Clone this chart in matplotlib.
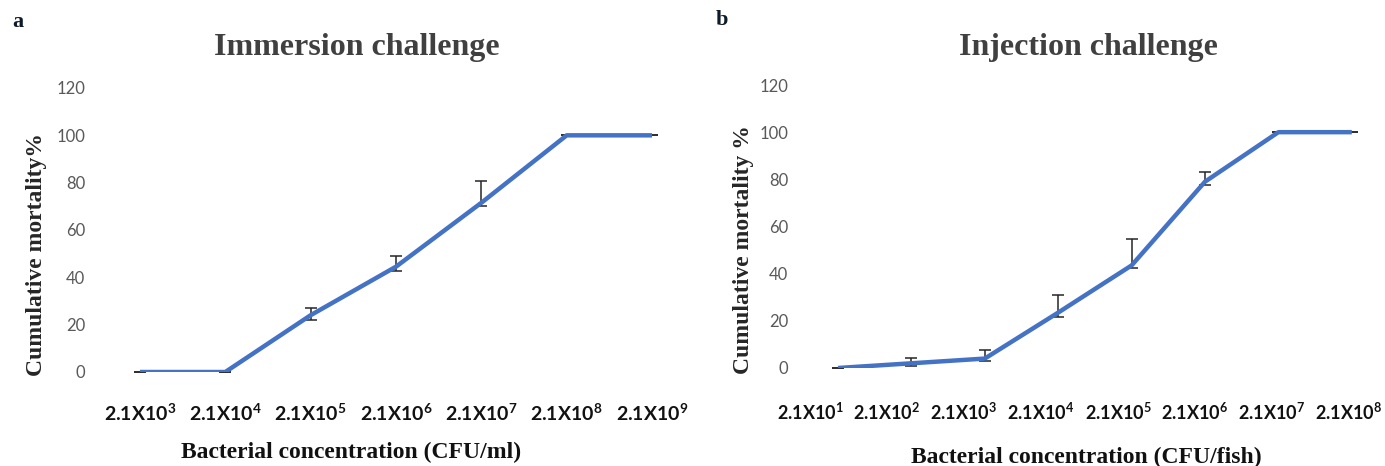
import matplotlib
matplotlib.use("Agg")
import matplotlib.pyplot as plt
import matplotlib.transforms as mtransforms
import numpy as np

# Immersion challenge (panel a)
imm_labels = ['3', '4', '5', '6', '7', '8', '9']
imm_values = [0, 0, 24, 44.5, 71.5, 100, 100]
imm_err_up = [0, 0, 3, 4.4, 9, 0, 0]
imm_err_lo = [0, 0, 2, 1.7, 1.2, 0, 0]

# Injection challenge (panel b)
inj_labels = ['1', '2', '3', '4', '5', '6', '7', '8']
inj_values = [0, 2, 4, 23.5, 43.5, 79, 100, 100]
inj_err_up = [0, 2.3, 3.8, 7.3, 11, 4, 0, 0]
inj_err_lo = [0, 1.3, 1, 1.8, 1.3, 1.2, 0, 0]

plt.rcParams['mathtext.fontset'] = 'custom'
plt.rcParams['mathtext.rm'] = 'Lato'
plt.rcParams['mathtext.bf'] = 'Lato:bold'

W, H = 1385, 466
fig = plt.figure(figsize=(W / 100, H / 100), dpi=100)

line_color = '#4472C4'
serif = 'Liberation Serif'


def px(x0, y_top, x1, y_bot):
    return [x0 / W, 1 - y_bot / H, (x1 - x0) / W, (y_bot - y_top) / H]


def panel(rect, labels, values, up, lo, ypad, xpad, xsize):
    ax = fig.add_axes(rect)
    x = np.arange(len(values))
    ax.errorbar(x, values, yerr=[lo, up], fmt='none', ecolor='#262626',
                elinewidth=1.1, capsize=4, capthick=1.1, zorder=2)
    ax.plot(x, values, color=line_color, lw=3.2, solid_capstyle='butt', zorder=3)
    ax.set_xlim(-0.5, len(values) - 0.5)
    ax.set_ylim(0, 120)
    ax.set_yticks(np.arange(0, 121, 20))
    ax.set_xticks(x)
    ax.set_xticklabels([r'$\mathbf{2.1X10^{%s}}$' % s for s in labels])
    for sp in ax.spines.values():
        sp.set_visible(False)
    ax.tick_params(axis='both', length=0)
    ax.tick_params(axis='y', labelsize=12, labelcolor='#595959', pad=ypad)
    ax.tick_params(axis='x', labelsize=xsize, labelcolor='#111111', pad=xpad)
    for t in ax.get_yticklabels():
        t.set_family('Lato')
    return ax


ax1 = panel(px(97.3, 88, 694.7, 372), imm_labels, imm_values, imm_err_up, imm_err_lo,
            8.5, 23, 14)
ax2 = panel(px(801.3, 85, 1388.5, 368), inj_labels, inj_values, inj_err_up, inj_err_lo,
            9.5, 25, 13)

# panel b category labels are spread a little wider than the points
n = len(inj_values)
step = 73.4
targets = np.linspace(810, 1349, n)
points = 838 + step * np.arange(n)
for lab, dx in zip(ax2.get_xticklabels(), targets - points):
    lab.set_transform(lab.get_transform() +
                      mtransforms.ScaledTranslation(dx / 100, 0, fig.dpi_scale_trans))

# panel letters
fig.text(12 / W, 1 - 22 / H, 'a', family=serif, weight='bold', fontsize=16,
         color='#0d1b2a', va='center', ha='left')
fig.text(716 / W, 1 - 20 / H, 'b', family=serif, weight='bold', fontsize=16,
         color='#0d1b2a', va='center', ha='left')

# titles
fig.text(357 / W, 1 - 48 / H, 'Immersion challenge', family=serif, weight='bold',
         fontsize=23, color='#404040', ha='center', va='center')
fig.text(1088 / W, 1 - 48 / H, 'Injection challenge', family=serif, weight='bold',
         fontsize=23, color='#404040', ha='center', va='center')

# axis titles
fig.text(37 / W, 1 - 255 / H, 'Cumulative mortality%', family=serif, weight='bold',
         fontsize=17, color='#262626', rotation=90, ha='center', va='center')
fig.text(743 / W, 1 - 250 / H, 'Cumulative mortality %', family=serif, weight='bold',
         fontsize=17, color='#262626', rotation=90, ha='center', va='center')
fig.text(351 / W, 1 - 452 / H, 'Bacterial concentration (CFU/ml)', family=serif,
         weight='bold', fontsize=17, color='#111111', ha='center', va='center')
fig.text(1086 / W, 1 - 457 / H, 'Bacterial concentration (CFU/fish)', family=serif,
         weight='bold', fontsize=17, color='#111111', ha='center', va='center')

fig.savefig('out.png', dpi=100)
